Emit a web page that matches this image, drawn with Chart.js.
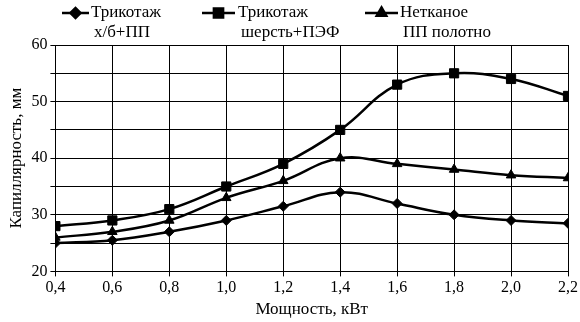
<!DOCTYPE html>
<html>
<head>
<meta charset="utf-8">
<script src="https://cdn.jsdelivr.net/npm/chart.js@4.4.0/dist/chart.umd.min.js"></script>
<style>
  html, body { margin: 0; padding: 0; background: #fff; }
  #wrap { width: 580px; height: 322px; position: relative; }
</style>
</head>
<body>
<div id="wrap"><canvas id="c"></canvas></div>
<script>
// мощность, кВт
var powerKw = [0.4, 0.6, 0.8, 1.0, 1.2, 1.4, 1.6, 1.8, 2.0, 2.2];
// капиллярность, мм
var knitCottonPP = [25, 25.5, 27, 29, 31.5, 34, 32, 30, 29, 28.5];
var knitWoolPEF = [28, 29, 31, 35, 39, 45, 53, 55, 54, 51];
var nonwovenPP = [26, 27, 29, 33, 36, 40, 39, 38, 37, 36.5];

var seriesNames = [['Трикотаж', 'х/б+ПП'], ['Трикотаж', 'шерсть+ПЭФ'], ['Нетканое', 'ПП полотно']];
var seriesMarkers = ['rectRot', 'rect', 'triangle'];
var seriesRadius = [5, 6.5, 5.5];

var FONT = "'Liberation Serif', 'DejaVu Serif', serif";
Chart.defaults.font.family = FONT;

function toXY(values) {
  return values.map(function(v, i) { return { x: powerKw[i], y: v }; });
}

var seriesData = [knitCottonPP, knitWoolPEF, nonwovenPP];
var datasets = seriesData.map(function(vals, i) {
  return {
    label: seriesNames[i].join(' '),
    data: toXY(vals),
    borderColor: '#000',
    backgroundColor: '#000',
    borderWidth: 2.5,
    pointStyle: seriesMarkers[i],
    pointRadius: seriesRadius[i],
    pointBackgroundColor: '#000',
    pointBorderColor: '#000',
    pointBorderWidth: 1,
    tension: 0.4,
    fill: false
  };
});

// легенда в две строки, рисуем сами
var legendPos = [{ x: 62, w: 27, tx: 91 }, { x: 202, w: 33, tx: 238 }, { x: 365, w: 33, tx: 400 }];
var twoLineLegend = {
  id: 'twoLineLegend',
  afterDraw: function(chart) {
    var ctx = chart.ctx;
    ctx.save();
    chart.data.datasets.forEach(function(ds, i) {
      var p = legendPos[i];
      var ly = 13;
      ctx.strokeStyle = '#000';
      ctx.lineWidth = 2.5;
      ctx.beginPath();
      ctx.moveTo(p.x, ly);
      ctx.lineTo(p.x + p.w, ly);
      ctx.stroke();
      ctx.fillStyle = '#000';
      Chart.helpers.drawPoint(ctx, { pointStyle: ds.pointStyle, radius: ds.pointRadius, borderWidth: 1 }, p.x + p.w / 2, ly);
      ctx.font = '17px ' + FONT;
      ctx.textBaseline = 'middle';
      ctx.textAlign = 'left';
      ctx.fillText(seriesNames[i][0], p.tx, 13);
      ctx.fillText(seriesNames[i][1], p.tx + 3, 33);
    });
    ctx.restore();
  }
};

new Chart(document.getElementById('c'), {
  type: 'line',
  data: { datasets: datasets },
  options: {
    responsive: true,
    maintainAspectRatio: false,
    animation: false,
    layout: { padding: { top: 45, right: 0, left: 6, bottom: 0 } },
    plugins: { legend: { display: false }, tooltip: { enabled: false } },
    scales: {
      x: {
        type: 'linear',
        min: 0.4,
        max: 2.2,
        ticks: {
          stepSize: 0.2,
          color: '#000',
          font: { family: FONT, size: 16 },
          padding: 2,
          callback: function(v) { return v.toFixed(1).replace('.', ','); }
        },
        grid: { color: '#000', lineWidth: 1, tickLength: 5 },
        border: { color: '#000', width: 1 },
        title: { display: true, text: 'Мощность, кВт', color: '#000', font: { family: FONT, size: 17 }, padding: { top: 0, bottom: 2 } }
      },
      y: {
        min: 20,
        max: 60,
        ticks: {
          stepSize: 5,
          color: '#000',
          font: { family: FONT, size: 16 },
          padding: 3,
          callback: function(v) { return v % 10 === 0 ? String(v) : ''; }
        },
        grid: { color: '#000', lineWidth: 1, tickLength: 5 },
        border: { color: '#000', width: 1 },
        title: { display: true, text: 'Капиллярность, мм', color: '#000', font: { family: FONT, size: 17 }, padding: { top: 0, bottom: 2 } }
      }
    }
  },
  plugins: [twoLineLegend]
});
</script>
</body>
</html>
